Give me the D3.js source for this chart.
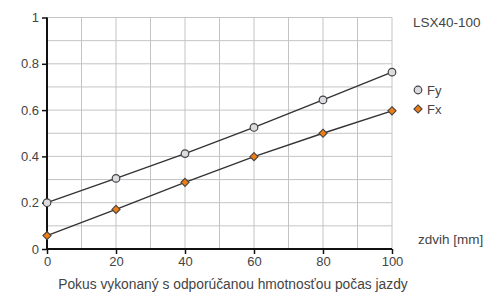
<!DOCTYPE html>
<html>
<head>
<meta charset="utf-8">
<script src="https://cdn.jsdelivr.net/npm/d3@7"></script>
<style>
body{margin:0;background:#fff;}
text{font-family:"Liberation Sans",Arial,sans-serif;fill:#444;}
</style>
</head>
<body>
<div id="chart"></div>
<script>
var xsize = 486;
var ysize = 294;

var stroke_x = [0, 20, 40, 60, 80, 100];
var fy_values = [0.2, 0.305, 0.412, 0.525, 0.644, 0.764];
var fx_values = [0.058, 0.171, 0.288, 0.399, 0.5, 0.597];
var x_ticks = [0, 20, 40, 60, 80, 100];
var y_ticks = [0, 0.2, 0.4, 0.6, 0.8, 1];
var series_names = ["Fy", "Fx"];

var plot_left = 47, plot_right = 392, plot_top = 17.5, plot_bottom = 249;

var svg = d3.select("#chart").append("svg")
	.attr("width", xsize)
	.attr("height", ysize)

var x = d3.scaleLinear().domain([0, 100]).range([plot_left, plot_right])
var y = d3.scaleLinear().domain([0, 1]).range([plot_bottom, plot_top])

// grid
var grid = svg.append("g")
grid.selectAll("line.gx").data(d3.range(10, 101, 10)).enter().append("line")
	.attr("x1", d=>x(d)).attr("x2", d=>x(d))
	.attr("y1", plot_top).attr("y2", plot_bottom)
	.attr("stroke", "#c4c4c4").attr("stroke-width", 1)
grid.selectAll("line.gy").data(d3.range(1, 11).map(d=>d/10)).enter().append("line")
	.attr("x1", plot_left).attr("x2", plot_right)
	.attr("y1", d=>y(d)).attr("y2", d=>y(d))
	.attr("stroke", "#c4c4c4").attr("stroke-width", 1)

// axes
var xAxis = svg.append("g")
	.attr("transform", "translate(0," + plot_bottom + ")")
	.call(d3.axisBottom(x).tickValues(x_ticks).tickSize(5).tickPadding(3))
var yAxis = svg.append("g")
	.attr("transform", "translate(" + plot_left + ",0)")
	.call(d3.axisLeft(y).tickValues(y_ticks).tickSize(5).tickPadding(3).tickFormat(d3.format("")))
xAxis.select(".domain").attr("stroke", "#111").attr("stroke-width", 2).attr("d", "M" + plot_left + ",0H" + plot_right)
yAxis.select(".domain").attr("stroke", "#111").attr("stroke-width", 2).attr("d", "M0," + plot_top + "V" + plot_bottom)
svg.selectAll(".tick line").attr("stroke", "#111").attr("stroke-width", 1.5)
svg.selectAll(".tick text").style("font-size", "13px").attr("fill", "#444")
	.style("font-family", "'Liberation Sans',Arial,sans-serif")

// lines
var line = d3.line().x((d, i)=>x(stroke_x[i])).y(d=>y(d))
svg.append("path").attr("d", line(fy_values))
	.attr("fill", "none").attr("stroke", "#333").attr("stroke-width", 1.4)
svg.append("path").attr("d", line(fx_values))
	.attr("fill", "none").attr("stroke", "#333").attr("stroke-width", 1.4)

var diamond = d3.symbol().type(d3.symbolDiamond2).size(42)

svg.selectAll("circle.fy").data(fy_values).enter().append("circle")
	.attr("cx", (d, i)=>x(stroke_x[i]))
	.attr("cy", d=>y(d))
	.attr("r", 3.8)
	.attr("fill", "#dcdce0").attr("stroke", "#444").attr("stroke-width", 1.2)
svg.selectAll("path.fx").data(fx_values).enter().append("path")
	.attr("d", diamond)
	.attr("transform", (d, i)=>"translate(" + x(stroke_x[i]) + "," + y(d) + ")")
	.attr("fill", "#f07d14").attr("stroke", "#444").attr("stroke-width", 1.1)

// legend
svg.append("circle").attr("cx", 418).attr("cy", 90).attr("r", 3.8)
	.attr("fill", "#dcdce0").attr("stroke", "#444").attr("stroke-width", 1.2)
svg.append("path").attr("d", diamond)
	.attr("transform", "translate(418,109)")
	.attr("fill", "#f07d14").attr("stroke", "#444").attr("stroke-width", 1.1)
svg.append("text").attr("x", 427).attr("y", 95).style("font-size", "13px").text(series_names[0])
svg.append("text").attr("x", 427).attr("y", 114).style("font-size", "13px").text(series_names[1])

svg.append("text").attr("x", 413).attr("y", 27).style("font-size", "13.5px").text("LSX40-100")
svg.append("text").attr("x", 418).attr("y", 244).style("font-size", "13.5px").text("zdvih [mm]")
svg.append("text").attr("x", 233).attr("y", 289).attr("text-anchor", "middle")
	.style("font-size", "13.8px").text("Pokus vykonaný s odporúčanou hmotnosťou počas jazdy")
</script>
</body>
</html>
